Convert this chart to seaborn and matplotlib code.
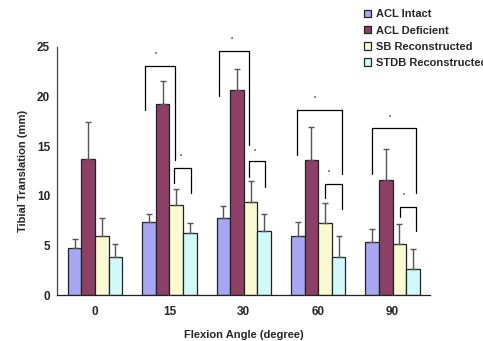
import numpy as np
import pandas as pd
import matplotlib
matplotlib.use('Agg')
import matplotlib.pyplot as plt
import seaborn as sns

# Data
angles = ['0', '15', '30', '60', '90']
groups = ['ACL Intact', 'ACL Deficient', 'SB Reconstructed', 'STDB Reconstructed']
colors = ['#9999FF', '#993366', '#FFFFCC', '#CCFFFF']

means = {
    'ACL Intact':         [4.8, 7.4, 7.8, 6.0, 5.4],
    'ACL Deficient':      [13.7, 19.2, 20.6, 13.6, 11.6],
    'SB Reconstructed':   [6.0, 9.1, 9.4, 7.3, 5.2],
    'STDB Reconstructed': [3.9, 6.3, 6.5, 3.9, 2.6],
}
sds = {
    'ACL Intact':         [0.9, 0.8, 1.2, 1.4, 1.3],
    'ACL Deficient':      [3.7, 2.4, 2.2, 3.3, 3.1],
    'SB Reconstructed':   [1.8, 1.6, 2.1, 2.0, 2.0],
    'STDB Reconstructed': [1.3, 1.0, 1.7, 2.1, 2.1],
}

# significance brackets: (x_left, x_right, y_top, y_left_end, y_right_end, star_x, star_y)
big_brackets = [
    (0.677, 1.081, 23.05, 18.63, 13.6, 0.816, 24.2),
    (1.668, 2.076, 24.52, 20.07, 15.11, 1.839, 25.73),
    (2.709, 3.314, 18.63, 14.1, 12.23, 2.955, 19.8),
    (3.722, 4.309, 16.82, 12.23, 10.32, 3.969, 17.89),
]
small_brackets = [
    (1.067, 1.296, 12.76, 11.32, 10.32, 1.152, 13.94),
    (2.076, 2.291, 13.47, 11.93, 10.92, 2.148, 14.44),
    (3.085, 3.314, 11.19, 9.78, 8.68, 3.152, 12.33),
    (4.094, 4.309, 8.84, 7.91, 6.43, 4.152, 10.05),
]

rows = []
for g in groups:
    for a, m in zip(angles, means[g]):
        rows.append({'angle': a, 'group': g, 'value': m})
df = pd.DataFrame(rows)

sns.set_style('white')
plt.rcParams['font.family'] = ['Liberation Sans', 'DejaVu Sans']
plt.rcParams['font.weight'] = 'bold'

fig = plt.figure(figsize=(4.83, 3.41), dpi=100)
ax = fig.add_axes([0.118, 0.134, 0.772, 0.729])

sns.barplot(data=df, x='angle', y='value', hue='group', order=angles,
            hue_order=groups, palette=colors, width=0.73, errorbar=None,
            edgecolor='#222222', linewidth=0.9, ax=ax)

# upward-only error bars
for cont, g in zip(ax.containers, groups):
    xs = [p.get_x() + p.get_width() / 2 for p in cont.patches]
    ys = [p.get_height() for p in cont.patches]
    ax.errorbar(xs, ys, yerr=[np.zeros(len(ys)), sds[g]], fmt='none',
                ecolor='#555555', elinewidth=1.0, capsize=2.2, capthick=1.0)

for brackets in (big_brackets, small_brackets):
    for xl, xr, yt, yl, yr, sx, sy in brackets:
        ax.plot([xl, xl, xr, xr], [yl, yt, yt, yr], color='black', lw=0.9,
                clip_on=False)
        ax.text(sx, sy, '*', fontsize=4, ha='center', va='center',
                color='#333333')

ax.set_xlim(-0.51, 4.5)
ax.set_ylim(0, 25)
ax.set_yticks([0, 5, 10, 15, 20, 25])
ax.tick_params(axis='y', direction='out', length=3, width=0.8, color='#333333',
               labelsize=8.5, pad=2)
ax.tick_params(axis='x', length=0, labelsize=8.5, pad=8)
for lab in ax.get_xticklabels() + ax.get_yticklabels():
    lab.set_fontweight('bold')
sns.despine(ax=ax)
ax.spines['left'].set_color('#444444')
ax.spines['bottom'].set_color('#222222')
ax.spines['left'].set_linewidth(0.9)
ax.spines['bottom'].set_linewidth(0.9)

ax.set_xlabel('Flexion Angle (degree)', fontsize=8, fontweight='bold', labelpad=8)
ax.set_ylabel('Tibial Translation (mm)', fontsize=8, fontweight='bold', labelpad=6)

handles, labels = ax.get_legend_handles_labels()
ax.get_legend().remove()
fig.legend(handles, labels, loc='upper left', bbox_to_anchor=(0.738, 0.995),
           frameon=False, prop={'weight': 'bold', 'size': 8},
           handlelength=0.65, handleheight=0.65, handletextpad=0.4,
           labelspacing=0.55, borderpad=0.2)

fig.savefig('out.png', dpi=100)
